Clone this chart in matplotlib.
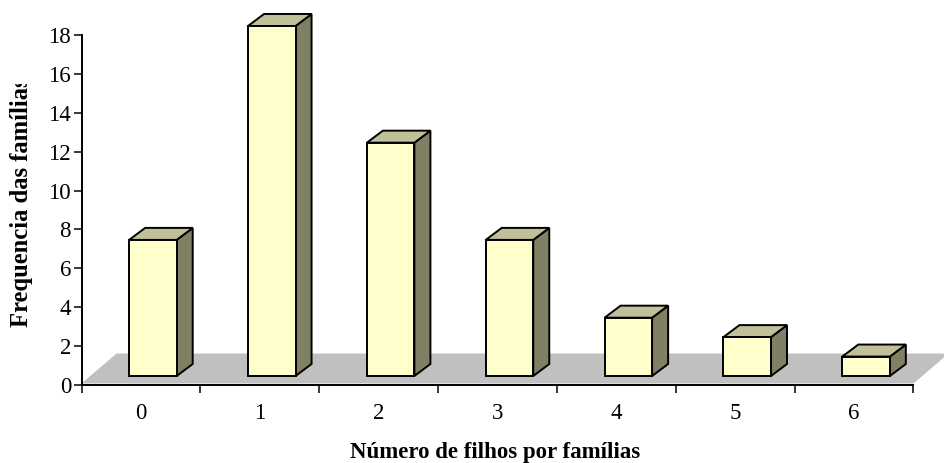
import matplotlib
matplotlib.use("Agg")
from matplotlib import pyplot as plt
from matplotlib.patches import Polygon
from matplotlib.transforms import Bbox, IdentityTransform
import numpy as np

# frequency of families by number of children
categories = ["0", "1", "2", "3", "4", "5", "6"]
frequencies = [7, 18, 12, 7, 3, 2, 1]
y_ticks = list(range(0, 19, 2))

FRONT = "#FFFFCC"
SIDE = "#808064"
TOP = "#C0C09A"
FLOOR = "#C0C0C0"

W, H = 944, 463
plt.rcParams["font.family"] = ["Liberation Serif", "DejaVu Serif"]

fig = plt.figure(figsize=(W / 100, H / 100), dpi=100)
ax = fig.add_axes([81.5 / W, 78 / H, 832 / W, 350 / H])
ax.set_xlim(0, len(categories))
ax.set_ylim(0, 18)

for side in ("top", "right"):
    ax.spines[side].set_visible(False)
for side in ("left", "bottom"):
    ax.spines[side].set_linewidth(1.4)
    ax.spines[side].set_zorder(5)

ax.set_yticks(y_ticks)
ax.tick_params(axis="y", direction="out", length=6, width=1.1, pad=1.5, labelsize=16.5)
ax.set_xticks(np.arange(len(categories) + 1))
ax.set_xticklabels([])
ax.tick_params(axis="x", which="major", direction="out", length=6, width=1.1)
ax.set_xticks(np.arange(len(categories)) + 0.5, minor=True)
ax.set_xticklabels(categories, minor=True)
ax.tick_params(axis="x", which="minor", length=0, pad=13, labelsize=16.5)


def px(x, y):
    return np.array(ax.transData.transform((x, y)))


def face(points, color, zorder):
    poly = Polygon(points, closed=True, facecolor=color, edgecolor="black",
                   linewidth=1.4, transform=IdentityTransform(),
                   clip_on=False, zorder=zorder, joinstyle="miter")
    ax.add_patch(poly)


# floor of the 3d plot
floor_depth = np.array([35, 30])
fl = px(0, 0) + np.array([0, 1.5])
fr = px(len(categories), 0) + np.array([0, 1.5])
ax.add_patch(Polygon([fl, fr, fr + floor_depth, fl + floor_depth], closed=True,
                     facecolor=FLOOR, edgecolor="none", transform=IdentityTransform(),
                     clip_on=False, zorder=1))

# 3d columns
bar_width = 0.4
front_shift = np.array([12, 9])
depth = np.array([16, 12])
for i, value in enumerate(frequencies):
    cx = i + 0.5
    bl = px(cx - bar_width / 2, 0) + front_shift
    br = px(cx + bar_width / 2, 0) + front_shift
    tl = px(cx - bar_width / 2, value) + front_shift
    tr = px(cx + bar_width / 2, value) + front_shift
    face([br, tr, tr + depth, br + depth], SIDE, 2 + i * 0.01)
    face([tl, tr, tr + depth, tl + depth], TOP, 2 + i * 0.01)
    face([bl, br, tr, tl], FRONT, 2 + i * 0.01)

fig.text(495 / W, (H - 458) / H, "Número de filhos por famílias",
         ha="center", va="baseline", fontsize=16.5, fontweight="bold")

# the axis title is cut off at the top of the chart area
ylab = fig.text(21.5 / W, (H - 327) / H, "Frequencia das famílias", rotation=90,
                rotation_mode="anchor", ha="left", va="center",
                fontsize=17.7, fontweight="bold")
ylab.set_clip_box(Bbox([[0, 0], [W, H - 84]]))
ylab.set_clip_on(True)

fig.savefig("out.png", dpi=100)
